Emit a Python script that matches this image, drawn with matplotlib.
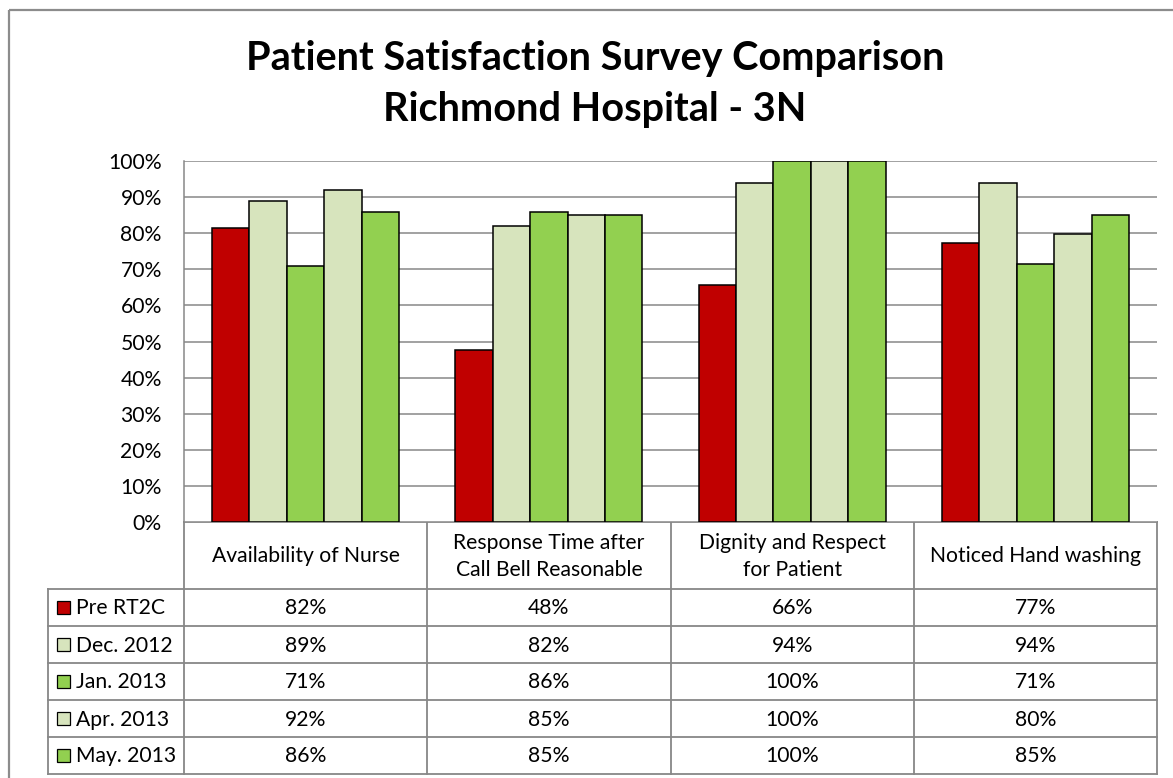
import matplotlib
matplotlib.use("Agg")
import matplotlib.pyplot as plt
from matplotlib.patches import Rectangle
import numpy as np

plt.rcParams['font.family'] = ['Lato', 'DejaVu Sans']

title = "Patient Satisfaction Survey Comparison\nRichmond Hospital - 3N"
categories = ["Availability of Nurse", "Response Time after\nCall Bell Reasonable",
              "Dignity and Respect\nfor Patient", "Noticed Hand washing"]
series_names = ["Pre RT2C", "Dec. 2012", "Jan. 2013", "Apr. 2013", "May. 2013"]
pre_rt2c = [81.5, 47.6, 65.7, 77.3]
dec_2012 = [88.9, 82.0, 94.0, 94.0]
jan_2013 = [70.9, 86.0, 100.0, 71.4]
apr_2013 = [92.0, 85.0, 100.0, 79.8]
may_2013 = [85.9, 85.0, 100.0, 85.0]
series_values = [pre_rt2c, dec_2012, jan_2013, apr_2013, may_2013]
series_colors = ["#C00000", "#D7E4BD", "#92D050", "#D7E4BD", "#92D050"]
yticks = [0, 10, 20, 30, 40, 50, 60, 70, 80, 90, 100]

W, H = 1173, 778
fig = plt.figure(figsize=(W / 100, H / 100), dpi=100)

grid_c = "#878787"
fs = 15.2
# layout in pixels
pl, pr, pt, pb = 184, 1157, 161, 522
tab_left = 48
row_h = 37
head_bot = 589

ax = fig.add_axes([pl / W, 1 - pb / H, (pr - pl) / W, (pb - pt) / H])
n_cat = len(categories)
n_ser = len(series_names)
x = np.arange(n_cat)
bw = 1.0 / (n_ser + 1.5)
for i, (vals, col) in enumerate(zip(series_values, series_colors)):
    ax.bar(x + (i - (n_ser - 1) / 2) * bw, vals, width=bw, color=col,
           edgecolor="black", linewidth=1.1, zorder=3)
ax.set_xlim(-0.5, n_cat - 0.5)
ax.set_ylim(0, 100)
ax.set_yticks(yticks)
ax.set_yticklabels([f"{t}%" for t in yticks], fontsize=fs)
ax.set_xticks([])
ax.tick_params(axis='y', length=0, pad=16)
ax.yaxis.grid(True, color=grid_c, linewidth=1.1, zorder=0)
for s in ["top", "right", "bottom"]:
    ax.spines[s].set_visible(False)
ax.spines["left"].set_color(grid_c)
ax.spines["left"].set_linewidth(1.1)

# overlay axes in pixel coords for table/border
ov = fig.add_axes([0, 0, 1, 1], zorder=-1)
ov.set_xlim(0, W)
ov.set_ylim(H, 0)
ov.axis("off")
ov.add_patch(Rectangle((8.5, 9.5), W + 20, H + 20, fill=False, edgecolor="#8c8c8c", linewidth=1.6))

fig.text(595 / W, 1 - 84 / H, title, ha="center", va="center", fontsize=28.5,
         fontweight="bold", linespacing=1.45)

col_w = (pr - pl) / n_cat
tab_bot = head_bot + row_h * n_ser
lw = 1.3
ov.plot([pl, pr], [pb, pb], color=grid_c, lw=lw)
for j in range(n_cat + 1):
    ov.plot([pl + j * col_w] * 2, [pb, tab_bot], color=grid_c, lw=lw)
ov.plot([tab_left, tab_left], [head_bot, tab_bot], color=grid_c, lw=lw)
for r in range(n_ser + 1):
    ov.plot([tab_left, pr], [head_bot + r * row_h] * 2, color=grid_c, lw=lw)
for j, c in enumerate(categories):
    ov.text(pl + (j + 0.5) * col_w, (pb + head_bot) / 2 + 1, c, ha="center", va="center",
            fontsize=fs, linespacing=1.45)
for r, (name, vals, col) in enumerate(zip(series_names, series_values, series_colors)):
    yc = head_bot + (r + 0.5) * row_h
    ov.add_patch(Rectangle((57, yc - 6.5), 13, 13, facecolor=col, edgecolor="black", linewidth=0.9))
    ov.text(76, yc + 1, name, ha="left", va="center", fontsize=fs)
    for j, v in enumerate(vals):
        ov.text(pl + (j + 0.5) * col_w, yc + 1, f"{v:.0f}%", ha="center", va="center", fontsize=fs)

fig.savefig("out.png", dpi=100)
